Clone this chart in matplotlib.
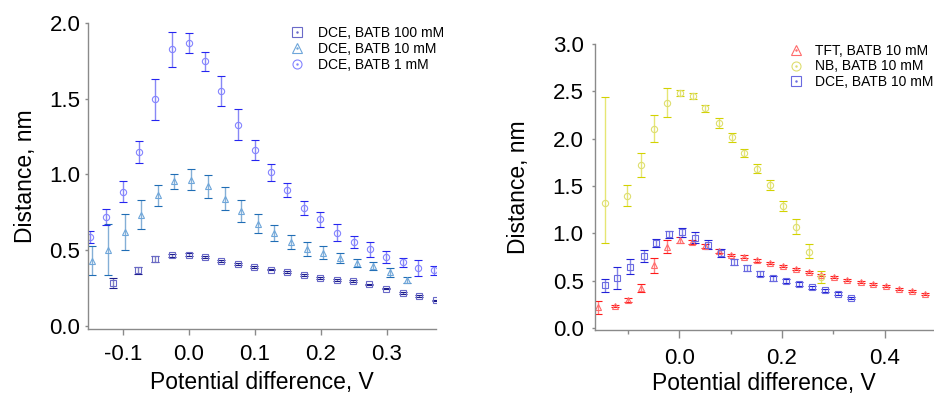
import matplotlib
matplotlib.use("Agg")
import matplotlib.pyplot as plt
from matplotlib.lines import Line2D

plt.rcParams['font.family'] = ['Liberation Sans', 'DejaVu Sans']
plt.rcParams['axes.unicode_minus'] = False

# left panel: DCE with different BATB concentrations
s100_x = [-0.115, -0.077, -0.051, -0.026, 0.0, 0.024, 0.048, 0.074, 0.099, 0.124,
          0.148, 0.174, 0.199, 0.224, 0.249, 0.273, 0.298, 0.324, 0.348, 0.374]
s100_y = [0.285, 0.368, 0.443, 0.467, 0.472, 0.454, 0.428, 0.412, 0.39, 0.373,
          0.358, 0.336, 0.316, 0.305, 0.296, 0.276, 0.248, 0.22, 0.2, 0.169]
s100_err = [0.033, 0.022, 0.018, 0.01, 0.008, 0.006, 0.006, 0.006, 0.006, 0.006,
            0.005, 0.005, 0.005, 0.005, 0.005, 0.005, 0.005, 0.005, 0.005, 0.005]

t10_x = [-0.147, -0.122, -0.097, -0.072, -0.047, -0.022, 0.003, 0.029, 0.054, 0.079,
         0.104, 0.129, 0.155, 0.179, 0.203, 0.229, 0.255, 0.279, 0.305, 0.33]
t10_y = [0.432, 0.503, 0.621, 0.735, 0.862, 0.954, 0.965, 0.921, 0.84, 0.761,
         0.676, 0.616, 0.555, 0.509, 0.485, 0.45, 0.417, 0.395, 0.355, 0.305]
t10_err = [0.095, 0.167, 0.117, 0.097, 0.07, 0.048, 0.07, 0.078, 0.077, 0.073,
           0.06, 0.052, 0.046, 0.044, 0.04, 0.035, 0.028, 0.028, 0.03, 0.022]

c1_x = [-0.15, -0.125, -0.1, -0.075, -0.051, -0.026, 0.0, 0.024, 0.048, 0.075, 0.1,
        0.125, 0.149, 0.174, 0.198, 0.225, 0.25, 0.274, 0.299, 0.324, 0.347, 0.371]
c1_y = [0.59, 0.72, 0.886, 1.147, 1.496, 1.825, 1.866, 1.746, 1.55, 1.329, 1.16,
        1.013, 0.897, 0.779, 0.704, 0.616, 0.557, 0.507, 0.454, 0.421, 0.384, 0.368]
c1_err = [0.04, 0.055, 0.07, 0.075, 0.135, 0.115, 0.063, 0.063, 0.1, 0.1, 0.065,
          0.055, 0.047, 0.045, 0.05, 0.055, 0.04, 0.05, 0.04, 0.03, 0.055, 0.028]

# right panel: different solvents, BATB 10 mM
tft_x = [-0.158, -0.125, -0.1, -0.074, -0.049, -0.024, 0.001, 0.026, 0.051, 0.077,
         0.101, 0.126, 0.151, 0.176, 0.202, 0.227, 0.252, 0.277, 0.302, 0.327,
         0.353, 0.378, 0.403, 0.428, 0.453, 0.478]
tft_y = [0.218, 0.236, 0.296, 0.424, 0.665, 0.86, 0.93, 0.905, 0.869, 0.81,
         0.771, 0.753, 0.715, 0.683, 0.652, 0.623, 0.592, 0.563, 0.535, 0.507,
         0.486, 0.465, 0.44, 0.412, 0.391, 0.362]
tft_err = [0.07, 0.012, 0.02, 0.045, 0.078, 0.07, 0.03, 0.02, 0.02, 0.02,
           0.015, 0.015, 0.012, 0.01, 0.01, 0.01, 0.01, 0.01, 0.01, 0.01,
           0.01, 0.01, 0.01, 0.01, 0.01, 0.01]

nb_x = [-0.145, -0.102, -0.074, -0.049, -0.023, 0.001, 0.027, 0.051, 0.077, 0.102,
        0.127, 0.152, 0.177, 0.202, 0.227, 0.253, 0.277]
nb_y = [1.317, 1.394, 1.718, 2.099, 2.377, 2.482, 2.447, 2.321, 2.165, 2.017,
        1.849, 1.683, 1.51, 1.292, 1.064, 0.806, 0.535]
nb_err_lo = [0.415, 0.1, 0.125, 0.135, 0.145, 0.032, 0.03, 0.042, 0.052, 0.056,
             0.039, 0.049, 0.052, 0.053, 0.074, 0.07, 0.06]
nb_err_hi = [1.126, 0.113, 0.134, 0.148, 0.158, 0.032, 0.032, 0.038, 0.05, 0.046,
             0.042, 0.053, 0.057, 0.046, 0.091, 0.078, 0.067]

dce_x = [-0.145, -0.12, -0.095, -0.069, -0.045, -0.019, 0.006, 0.031, 0.056, 0.082,
         0.107, 0.132, 0.157, 0.183, 0.207, 0.233, 0.258, 0.283, 0.309, 0.334]
dce_y = [0.45, 0.53, 0.65, 0.76, 0.9, 0.99, 1.01, 0.955, 0.88, 0.79,
         0.7, 0.635, 0.575, 0.525, 0.5, 0.465, 0.43, 0.4, 0.365, 0.315]
dce_err = [0.07, 0.12, 0.08, 0.062, 0.045, 0.035, 0.045, 0.058, 0.048, 0.04,
           0.03, 0.03, 0.025, 0.025, 0.02, 0.02, 0.015, 0.015, 0.015, 0.012]


def draw(ax, x, y, err, mk, mcol, ecol):
    eb = ax.errorbar(x, y, yerr=err, fmt=mk, ms=4.5, mfc='none', mec=mcol, mew=0.8,
                     ecolor=ecol, elinewidth=1.0, capsize=2.6, capthick=1.6)
    for lc in eb[2]:
        lc.set_alpha(0.55)


def handle(mk, mcol):
    h1 = Line2D([], [], ls='none', marker=mk, ms=6.5, mfc='none', mec=mcol, mew=0.8)
    h2 = Line2D([], [], ls='none', marker='.', ms=1.5, color=mcol)
    return (h1, h2)


def style(ax):
    for s in ['top', 'right']:
        ax.spines[s].set_visible(False)
    for s in ['left', 'bottom']:
        ax.spines[s].set_color('#8a8a8a')
        ax.spines[s].set_linewidth(1.0)
    ax.tick_params(axis='both', which='both', colors='#8a8a8a', labelcolor='black',
                   labelsize=16, width=1.0)
    ax.tick_params(axis='y', length=2.5, pad=3)
    ax.set_ylabel('Distance, nm', fontsize=16.5)
    ax.set_xlabel('Potential difference, V', fontsize=16.5, labelpad=4)


fig = plt.figure(figsize=(9.34, 3.97), dpi=100)

ax1 = fig.add_axes([0.0942, 0.172, 0.3726, 0.7708])
draw(ax1, s100_x, s100_y, s100_err, 's', '#6a6ac8', '#1c1c8c')
draw(ax1, t10_x, t10_y, t10_err, '^', '#6ea6da', '#1f6db5')
draw(ax1, c1_x, c1_y, c1_err, 'o', '#8484ff', '#2525f0')
ax1.set_xlim(-0.153, 0.3745)
ax1.set_ylim(-0.017, 2.0)
ax1.set_xticks([-0.1, 0.0, 0.1, 0.2, 0.3])
ax1.set_yticks([0.0, 0.5, 1.0, 1.5, 2.0])
style(ax1)
ax1.tick_params(axis='x', length=4, pad=7)
ax1.yaxis.labelpad = 9
ax1.legend([handle('s', '#6a6ac8'), handle('^', '#6ea6da'), handle('o', '#8484ff')],
           ['DCE, BATB 100 mM', 'DCE, BATB 10 mM', 'DCE, BATB 1 mM'],
           loc='upper left', bbox_to_anchor=(0.58, 0.99), frameon=False, fontsize=10,
           handlelength=1.0, handletextpad=1.0, labelspacing=0.15,
           borderpad=0, borderaxespad=0)

ax2 = fig.add_axes([0.6374, 0.1688, 0.361, 0.7204])
draw(ax2, tft_x, tft_y, tft_err, '^', '#ff6b6b', '#ff1a1a')
draw(ax2, nb_x, nb_y, [nb_err_lo, nb_err_hi], 'o', '#dede70', '#d2d200')
draw(ax2, dce_x, dce_y, dce_err, 's', '#6a6ae0', '#2020d8')
ax2.set_xlim(-0.163, 0.493)
ax2.set_ylim(-0.02, 3.0)
ax2.set_xticks([0.0, 0.2, 0.4])
ax2.set_xticks([-0.1, 0.1, 0.3], minor=True)
ax2.set_yticks([0.0, 0.5, 1.0, 1.5, 2.0, 2.5, 3.0])
style(ax2)
ax2.tick_params(axis='x', which='major', length=6, pad=7)
ax2.tick_params(axis='x', which='minor', length=3)
ax2.tick_params(axis='y', pad=6)
ax2.xaxis.labelpad = 2
ax2.yaxis.labelpad = 16
ax2.legend([handle('^', '#ff6b6b'), handle('o', '#dede70'), handle('s', '#6a6ae0')],
           ['TFT, BATB 10 mM', 'NB, BATB 10 mM', 'DCE, BATB 10 mM'],
           loc='upper left', bbox_to_anchor=(0.5736, 1.0), frameon=False, fontsize=10,
           handlelength=1.0, handletextpad=0.87, labelspacing=0.1,
           borderpad=0, borderaxespad=0)

fig.savefig('out.png', dpi=100)
